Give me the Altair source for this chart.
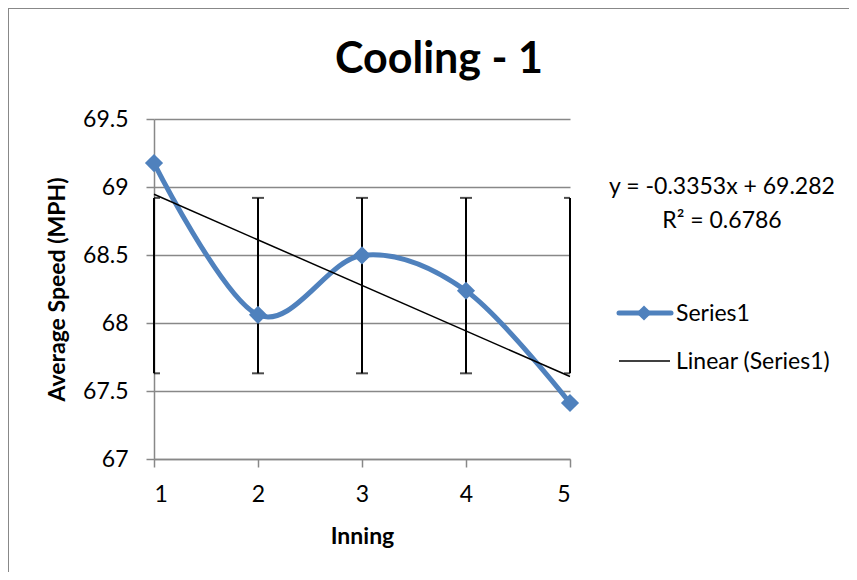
import altair as alt
import pandas as pd

# ---- data ----
innings = [1, 2, 3, 4, 5]
speeds = [69.176, 68.06, 68.497, 68.237, 67.412]
err_low = [67.63, 67.63, 67.63, 67.63, 67.63]
err_high = [68.92, 68.92, 68.92, 68.92, 68.92]
x_ticks = [1, 2, 3, 4, 5]
y_ticks = [67, 67.5, 68, 68.5, 69, 69.5]

chart_title = "Cooling - 1"
x_title = "Inning"
y_title = "Average Speed (MPH)"
eq_line1 = "y = -0.3353x + 69.282"
eq_line2 = "R² = 0.6786"
legend_labels = ["Series1", "Linear (Series1)"]

BLUE = "#4F81BD"
GRAY = "#888888"
FONT = "Lato"
FS = 23

W, H = 416, 340
PAD_L, PAD_T = 146, 111
TOTAL_W, TOTAL_H = 841, 564

df = pd.DataFrame({"Inning": innings, "Speed": speeds, "lo": err_low, "hi": err_high})

x_scale = alt.Scale(domain=[1, 5], nice=False, zero=False)
y_scale = alt.Scale(domain=[67, 69.5], nice=False, zero=False)

x_axis = alt.Axis(values=x_ticks, title=x_title, grid=False, labelPadding=16,
                  titleY=84, titleBaseline="alphabetic")
y_axis = alt.Axis(values=y_ticks, format=".1~f", title=y_title, grid=True,
                  labelPadding=18, titleX=-97, titleY=H / 2, titleAngle=270,
                  titleAlign="center", titleBaseline="middle")

X = alt.X("Inning:Q", scale=x_scale, axis=x_axis)
Y = alt.Y("Speed:Q", scale=y_scale, axis=y_axis)

base = alt.Chart(df)

err_rule = base.mark_rule(color="black", strokeWidth=2).encode(
    x=X, y=alt.Y("lo:Q", scale=y_scale, axis=y_axis), y2="hi:Q")
cap_lo = base.mark_tick(orient="horizontal", size=12, thickness=2, color="black", clip=True).encode(
    x=X, y=alt.Y("lo:Q", scale=y_scale, axis=y_axis))
cap_hi = base.mark_tick(orient="horizontal", size=12, thickness=2, color="black", clip=True).encode(
    x=X, y=alt.Y("hi:Q", scale=y_scale, axis=y_axis))

series_line = base.mark_line(color=BLUE, strokeWidth=5, interpolate="cardinal").encode(x=X, y=Y)
series_pts = base.mark_point(shape="diamond", filled=True, size=330, color=BLUE, opacity=1).encode(x=X, y=Y)

trend = base.transform_regression("Inning", "Speed", method="linear", extent=[1, 5]).mark_line(
    color="black", strokeWidth=1.5).encode(x=X, y=Y)

one = pd.DataFrame({"k": [0]})

title_txt = alt.Chart(one).mark_text(text=chart_title, font=FONT, fontSize=43, fontWeight="bold",
                                     color="black", align="center", baseline="alphabetic").encode(
    x=alt.value(285), y=alt.value(-46))

eq1 = alt.Chart(one).mark_text(text=eq_line1, font=FONT, fontSize=FS, color="black",
                               align="center", baseline="alphabetic").encode(
    x=alt.value(568), y=alt.value(75))
eq2 = alt.Chart(one).mark_text(text=eq_line2, font=FONT, fontSize=FS, color="black",
                               align="center", baseline="alphabetic").encode(
    x=alt.value(568), y=alt.value(109))

leg_line1 = alt.Chart(one).mark_rule(color=BLUE, strokeWidth=5, strokeCap="round").encode(
    x=alt.value(465), x2=alt.value(517), y=alt.value(194))
leg_pt1 = alt.Chart(one).mark_point(shape="diamond", filled=True, size=230, color=BLUE, opacity=1).encode(
    x=alt.value(490), y=alt.value(194))
leg_txt1 = alt.Chart(one).mark_text(text=legend_labels[0], font=FONT, fontSize=FS, color="black",
                                    align="left", baseline="alphabetic").encode(
    x=alt.value(522), y=alt.value(202))
leg_line2 = alt.Chart(one).mark_rule(color="black", strokeWidth=1.5).encode(
    x=alt.value(465), x2=alt.value(516), y=alt.value(242))
leg_txt2 = alt.Chart(one).mark_text(text=legend_labels[1], font=FONT, fontSize=FS, color="black",
                                    align="left", baseline="alphabetic").encode(
    x=alt.value(522), y=alt.value(250))

border_top = alt.Chart(one).mark_rule(color=GRAY, strokeWidth=1).encode(
    x=alt.value(-PAD_L), x2=alt.value(TOTAL_W - PAD_L), y=alt.value(-PAD_T + 0.5))
border_left = alt.Chart(one).mark_rule(color=GRAY, strokeWidth=1).encode(
    x=alt.value(-PAD_L + 0.5), y=alt.value(-PAD_T), y2=alt.value(TOTAL_H - PAD_T))

chart = alt.layer(
    err_rule, cap_lo, cap_hi, series_line, series_pts, trend,
    title_txt, eq1, eq2, leg_line1, leg_pt1, leg_txt1, leg_line2, leg_txt2,
    border_top, border_left,
).properties(
    width=W, height=H,
    padding={"left": PAD_L, "top": PAD_T, "right": TOTAL_W - PAD_L - W, "bottom": TOTAL_H - PAD_T - H},
    autosize=alt.AutoSizeParams(type="none"),
    background="white",
).configure_view(stroke=None).configure_axis(
    domainColor=GRAY, domainWidth=1.5, tickColor=GRAY, tickWidth=1.5, tickSize=8,
    gridColor=GRAY, gridWidth=1.5, gridOpacity=1,
    labelFont=FONT, labelFontSize=FS, labelColor="black",
    titleFont=FONT, titleFontSize=FS, titleFontWeight="bold", titleColor="black",
)

chart.save("out.html", embed_options={"renderer": "svg", "actions": False})
